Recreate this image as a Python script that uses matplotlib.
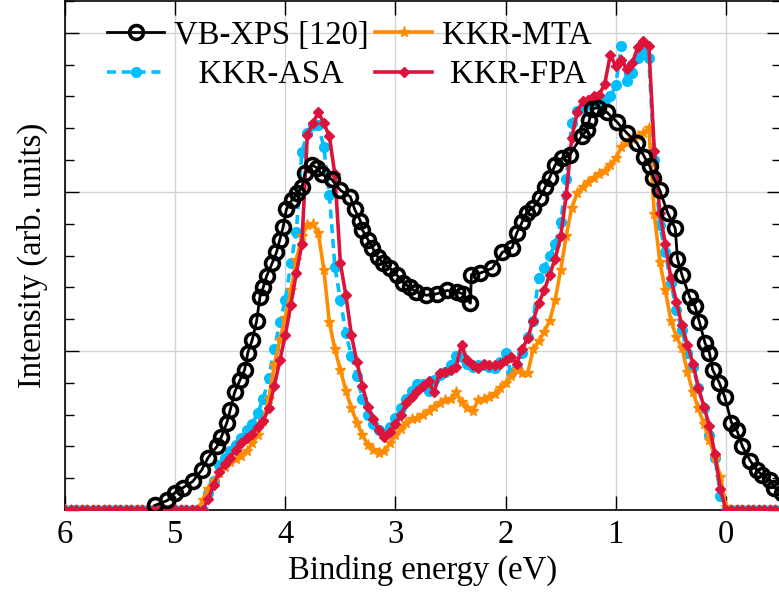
import numpy as np
import matplotlib
matplotlib.use("Agg")
import matplotlib.pyplot as plt
from matplotlib.ticker import MultipleLocator

plt.rcParams['font.family'] = ['Liberation Serif', 'DejaVu Serif']
plt.rcParams['font.size'] = 23.5

# measured valence-band XPS spectrum
xps_e = [5.18, 5.07, 5.00, 4.93, 4.84, 4.76, 4.70, 4.62, 4.58, 4.53,
         4.50, 4.46, 4.41, 4.37, 4.34, 4.30, 4.26, 4.23, 4.20, 4.17,
         4.12, 4.08, 4.05, 4.02, 3.99, 3.94, 3.89, 3.85, 3.82, 3.76,
         3.71, 3.67, 3.58, 3.50, 3.41, 3.37, 3.32, 3.30, 3.25, 3.21,
         3.16, 3.11, 3.05, 2.99, 2.93, 2.87, 2.81, 2.72, 2.62, 2.53,
         2.44, 2.39, 2.32, 2.31, 2.23, 2.12, 2.03, 1.94, 1.90, 1.85,
         1.81, 1.75, 1.69, 1.64, 1.60, 1.55, 1.49, 1.42, 1.31, 1.26,
         1.24, 1.22, 1.16, 1.08, 0.99, 0.90, 0.81, 0.74, 0.69, 0.66,
         0.60, 0.53, 0.46, 0.44, 0.40, 0.33, 0.28, 0.24, 0.19, 0.15,
         0.12, 0.06, 0.01, -0.05, -0.10, -0.15, -0.22, -0.28, -0.33, -0.40,
         -0.44, -0.51]
xps_i = [0.03, 0.06, 0.11, 0.14, 0.18, 0.25, 0.33, 0.40, 0.46, 0.55,
         0.63, 0.74, 0.82, 0.88, 0.99, 1.07, 1.19, 1.34, 1.40, 1.47,
         1.55, 1.62, 1.70, 1.78, 1.89, 1.95, 1.99, 2.03, 2.12, 2.17,
         2.15, 2.11, 2.08, 2.01, 1.97, 1.89, 1.82, 1.76, 1.70, 1.65,
         1.59, 1.55, 1.52, 1.48, 1.43, 1.40, 1.37, 1.35, 1.36, 1.38,
         1.37, 1.36, 1.30, 1.48, 1.49, 1.52, 1.62, 1.65, 1.74, 1.81,
         1.87, 1.90, 1.96, 2.03, 2.09, 2.17, 2.21, 2.23, 2.35, 2.39,
         2.45, 2.52, 2.53, 2.50, 2.44, 2.37, 2.31, 2.22, 2.16, 2.09,
         2.01, 1.87, 1.77, 1.58, 1.48, 1.34, 1.28, 1.18, 1.05, 0.99,
         0.88, 0.80, 0.71, 0.55, 0.50, 0.40, 0.31, 0.25, 0.22, 0.19,
         0.14, 0.11]

# calculated DOS on a 0.05 eV grid, 6.00 ... -0.50 eV
e_calc = np.round(np.arange(6.0, -0.51, -0.05), 2)
gap_lo = [0.0] * 25   # 6.00 .. 4.80 eV
gap_hi = [0.0] * 10   # -0.05 .. -0.50 eV

# values for 4.75 .. 0.00 eV
asa_vb = [0.00, 0.11, 0.18, 0.28, 0.33, 0.37, 0.41, 0.45, 0.50, 0.54,
          0.61, 0.70, 0.83, 1.01, 1.18, 1.32, 1.55, 1.75, 2.25, 2.37,
          2.42, 2.42, 2.28, 1.98, 1.53, 1.32, 1.11, 0.97, 0.84, 0.70,
          0.60, 0.54, 0.50, 0.48, 0.52, 0.58, 0.64, 0.70, 0.75, 0.79,
          0.79, 0.75, 0.82, 0.85, 0.87, 0.91, 0.97, 0.96, 0.92, 0.90,
          0.91, 0.91, 0.90, 0.89, 0.93, 0.99, 0.86, 0.89, 0.99, 1.09,
          1.19, 1.46, 1.52, 1.60, 1.67, 1.81, 2.08, 2.43, 2.51, 2.53,
          2.55, 2.57, 2.56, 2.58, 2.60, 2.67, 2.92, 2.70, 2.75, 2.84,
          2.87, 2.84, 2.20, 1.79, 1.62, 1.43, 1.26, 1.13, 0.99, 0.90,
          0.77, 0.64, 0.47, 0.33, 0.09, 0.00]
mta_vb = [0.06, 0.13, 0.18, 0.23, 0.27, 0.30, 0.32, 0.34, 0.37, 0.42,
          0.47, 0.56, 0.70, 0.91, 1.07, 1.21, 1.38, 1.57, 1.72, 1.79,
          1.80, 1.74, 1.51, 1.18, 1.01, 0.88, 0.75, 0.64, 0.55, 0.47,
          0.41, 0.38, 0.36, 0.37, 0.42, 0.47, 0.51, 0.55, 0.57, 0.58,
          0.60, 0.62, 0.65, 0.67, 0.69, 0.70, 0.74, 0.68, 0.64, 0.62,
          0.69, 0.70, 0.71, 0.73, 0.77, 0.80, 0.84, 0.88, 0.86, 0.86,
          1.01, 1.06, 1.12, 1.19, 1.32, 1.51, 1.72, 1.90, 1.99, 2.03,
          2.06, 2.09, 2.11, 2.13, 2.17, 2.21, 2.28, 2.31, 2.33, 2.35,
          2.37, 2.40, 1.86, 1.56, 1.38, 1.19, 1.09, 1.02, 0.87, 0.74,
          0.64, 0.54, 0.44, 0.33, 0.21, 0.02]
fpa_vb = [0.00, 0.07, 0.16, 0.24, 0.29, 0.33, 0.38, 0.42, 0.45, 0.48,
          0.52, 0.56, 0.64, 0.78, 0.94, 1.10, 1.29, 1.49, 1.67, 2.36,
          2.43, 2.50, 2.43, 2.35, 2.11, 1.55, 1.35, 1.10, 0.93, 0.78,
          0.65, 0.57, 0.50, 0.46, 0.49, 0.54, 0.60, 0.67, 0.71, 0.75,
          0.78, 0.81, 0.74, 0.86, 0.87, 0.88, 0.90, 1.04, 0.94, 0.91,
          0.89, 0.92, 0.91, 0.91, 0.92, 0.94, 0.96, 0.92, 1.01, 1.08,
          1.19, 1.30, 1.38, 1.48, 1.58, 1.72, 1.98, 2.34, 2.50, 2.57,
          2.58, 2.60, 2.61, 2.68, 2.86, 2.79, 2.83, 2.77, 2.81, 2.91,
          2.95, 2.92, 2.26, 1.87, 1.67, 1.46, 1.31, 1.16, 1.04, 0.92,
          0.77, 0.65, 0.53, 0.35, 0.13, 0.00]

dos_asa = gap_lo + asa_vb + gap_hi
dos_mta = gap_lo + mta_vb + gap_hi
dos_fpa = gap_lo + fpa_vb + gap_hi

fig = plt.figure(figsize=(7.79, 5.94), dpi=100)
ax = fig.add_axes([65 / 779, 84 / 594, 716 / 779, 509 / 594])

l_asa, = ax.plot(e_calc, dos_asa, color='#00BFFF', ls=(0, (2.5, 1.6)), lw=2.6,
                 marker='o', ms=7, label='   KKR-ASA', zorder=3)
l_mta, = ax.plot(e_calc, dos_mta, color='#FF8C00', lw=2.6,
                 marker='*', ms=8, label='KKR-MTA', zorder=3)
l_fpa, = ax.plot(e_calc, dos_fpa, color='#DC143C', lw=2.6,
                 marker='D', ms=5.5, label=' KKR-FPA', zorder=4)
l_xps, = ax.plot(xps_e, xps_i, color='black', lw=2.0, marker='o', ms=10,
                 mfc='none', mew=2.6, label='VB-XPS [120]', zorder=5)

ax.set_xlim(6, -0.5)
ax.set_ylim(0, 3.2)
ax.xaxis.set_major_locator(MultipleLocator(1))
ax.yaxis.set_major_locator(MultipleLocator(1))
ax.yaxis.set_minor_locator(MultipleLocator(0.2))
ax.tick_params(which='both', direction='in', top=True, right=True,
               labelleft=False, width=1.0)
ax.tick_params(which='major', length=10, pad=7)
ax.tick_params(which='minor', length=6.5)
ax.grid(True, which='major', color='#d3d3d3', lw=1.0)
ax.set_axisbelow(True)
for s in ax.spines.values():
    s.set_linewidth(1.2)

ax.set_xlabel('Binding energy (eV)', labelpad=3)
ax.set_ylabel('Intensity (arb. units)', labelpad=12)

ax.legend(handles=[l_xps, l_asa, l_mta, l_fpa], ncol=2, frameon=False,
          loc='upper left', bbox_to_anchor=(0.059, 0.962), borderpad=0,
          borderaxespad=0, numpoints=1, handlelength=1.75, handletextpad=0.3,
          columnspacing=0.2, labelspacing=0.28)

fig.savefig('out.png', dpi=100)
